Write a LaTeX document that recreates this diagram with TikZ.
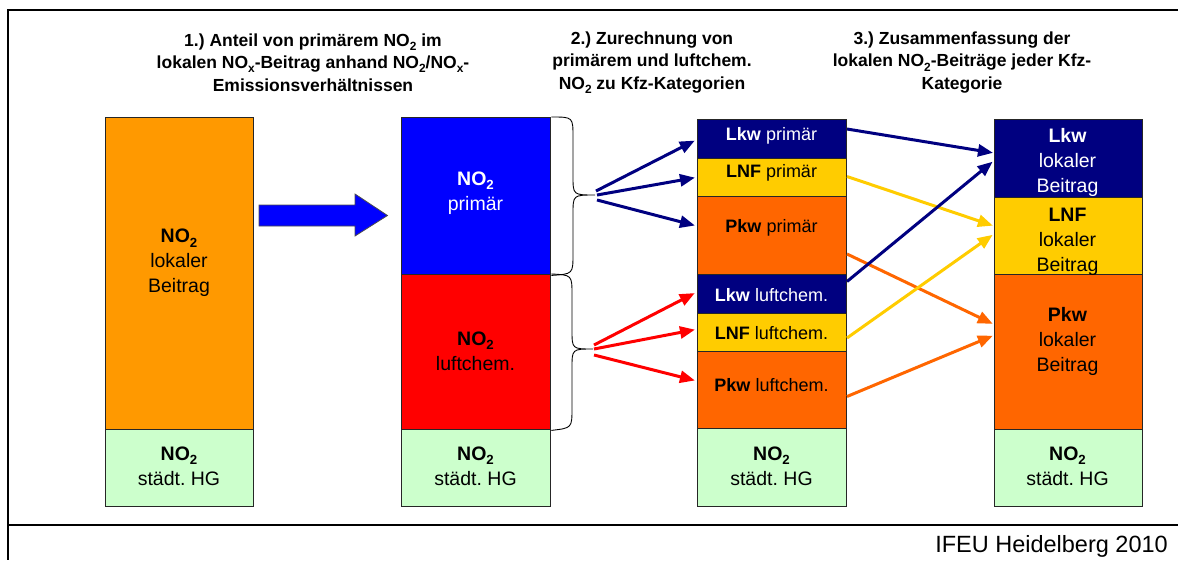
\documentclass[tikz,border=0pt]{standalone}
\usepackage{fontspec}
\setmainfont{Liberation Sans}
\usetikzlibrary{arrows.meta}
\frenchspacing
\definecolor{cOrange1}{HTML}{FF9900}
\definecolor{cBlue}{HTML}{0000FF}
\definecolor{cRed}{HTML}{FF0000}
\definecolor{cNavy}{HTML}{000080}
\definecolor{cYellow}{HTML}{FFCC00}
\definecolor{cOrange}{HTML}{FF6600}
\definecolor{cGreen}{HTML}{CCFFCC}
\newcommand{\lowsub}[1]{\raisebox{-0.4ex}{\fontsize{0.7\dimexpr\f@size pt\relax}{1pt}\selectfont #1}}
\makeatletter
\renewcommand{\lowsub}[1]{\raisebox{-0.45ex}{\fontsize{\dimexpr 0.68\dimexpr\f@size pt\relax\relax}{1pt}\selectfont #1}}
\makeatother
\newcommand{\NOtwo}{\textbf{NO\lowsub{2}}}
\begin{document}
\begin{tikzpicture}[x=1pt,y=-1pt,
  box/.style={draw=black!85, line width=1.4pt, inner sep=0pt, anchor=north west},
  txt/.style={align=center, inner sep=0pt, font=\fontsize{19.5}{25}\selectfont},
  stxt/.style={align=center, inner sep=0pt, font=\fontsize{18}{22}\selectfont},
  head/.style={align=center, inner sep=0pt, font=\fontsize{17.5}{22.5}\selectfont\bfseries},
  arr/.style={line width=3pt, -{Triangle[length=15pt,width=12pt]}, shorten >=-2pt},
  brace/.style={draw=black, line width=0.9pt}
]
\useasboundingbox (0,0) rectangle (1178,560);
% frame
\draw[line width=2pt] (1178,10) -- (8,10) -- (8,560);
\draw[line width=2pt] (8,525) -- (1178,525);

% headings
\node[head] (h1) at (313,62.5) {1.) Anteil von primärem NO\lowsub{2} im\\lokalen NO\lowsub{x}-Beitrag anhand NO\lowsub{2}/NO\lowsub{x}-\\Emissionsverhältnissen};
\node[head] (h2) at (652,62.5) {2.) Zurechnung von\\primärem und luftchem.\\NO\lowsub{2} zu Kfz-Kategorien};
\node[head] (h3) at (962,62.5) {3.) Zusammenfassung der\\lokalen NO\lowsub{2}-Beiträge jeder Kfz-\\Kategorie};

% column 1
\node[box, fill=cOrange1, minimum width=148pt, minimum height=312pt] (c1a) at (105,117) {};
\node[box, fill=cGreen, minimum width=148pt, minimum height=77pt] (c1b) at (105,429) {};
\node[txt] (t1a) at (179,263) {\NOtwo\\lokaler\\Beitrag};
\node[txt] (t1b) at (179,466) {\NOtwo\\städt. HG};

% big arrow
\draw[fill=cBlue, draw=black!70, line width=0.8pt] (259,205) -- (355,205) -- (355,194) -- (387.5,215.5) -- (355,236) -- (355,226) -- (259,226) -- cycle;
\coordinate (bigarrow) at (323,215);

% column 2
\node[box, fill=cBlue, minimum width=149pt, minimum height=157pt] (c2a) at (401,117) {};
\node[box, fill=cRed, minimum width=149pt, minimum height=155pt] (c2b) at (401,274) {};
\node[box, fill=cGreen, minimum width=149pt, minimum height=77pt] (c2c) at (401,429) {};
\node[txt, text=white] (t2a) at (475.5,193) {\NOtwo\\primär};
\node[txt] (t2b) at (475.5,351) {\NOtwo\\luftchem.};
\node[txt] (t2c) at (475.5,466) {\NOtwo\\städt. HG};

% braces
\coordinate (b1) at (595,195);
\coordinate (b2) at (593,349);
\draw[brace] (c2a.north east) .. controls (573,117) .. (573,137) -- (573,176) .. controls (573,195) .. (b1) .. controls (573,195) .. (573,214) -- (573,254) .. controls (573,274) .. (c2a.south east);
\draw[brace] (c2b.north east) .. controls (572,275) .. (572,295) -- (572,330) .. controls (572,349) .. (b2) .. controls (572,349) .. (572,368) -- (572,408) .. controls (572,428) .. (c2b.south east);

% column 3
\node[box, fill=cNavy, minimum width=149pt, minimum height=39pt] (c3a) at (697,119) {};
\node[box, fill=cYellow, minimum width=149pt, minimum height=38pt] (c3b) at (697,158) {};
\node[box, fill=cOrange, minimum width=149pt, minimum height=78pt] (c3c) at (697,196) {};
\node[box, fill=cNavy, minimum width=149pt, minimum height=39pt] (c3d) at (697,274) {};
\node[box, fill=cYellow, minimum width=149pt, minimum height=38pt] (c3e) at (697,313) {};
\node[box, fill=cOrange, minimum width=149pt, minimum height=77pt] (c3f) at (697,351) {};
\node[box, fill=cGreen, minimum width=149pt, minimum height=78pt] (c3g) at (697,428) {};
\node[stxt, text=white] (t3a) at (771.5,136) {\textbf{Lkw} primär};
\node[stxt] (t3b) at (771.5,173) {\textbf{LNF} primär};
\node[stxt] (t3c) at (771.5,228) {\textbf{Pkw} primär};
\node[stxt, text=white] (t3d) at (771.5,295) {\textbf{Lkw} luftchem.};
\node[stxt] (t3e) at (771.5,333) {\textbf{LNF} luftchem.};
\node[stxt] (t3f) at (771.5,385) {\textbf{Pkw} luftchem.};
\node[txt] (t3g) at (771.5,466) {\NOtwo\\städt. HG};

% column 4
\node[box, fill=cNavy, minimum width=148pt, minimum height=78pt] (c4a) at (993.5,119) {};
\node[box, fill=cYellow, minimum width=148pt, minimum height=77pt] (c4b) at (993.5,197) {};
\node[box, fill=cOrange, minimum width=148pt, minimum height=155pt] (c4c) at (993.5,274) {};
\node[box, fill=cGreen, minimum width=148pt, minimum height=77pt] (c4d) at (993.5,429) {};
\node[txt, text=white] (t4a) at (1067.5,162) {\textbf{Lkw}\\lokaler\\Beitrag};
\node[txt] (t4b) at (1067.5,242) {\textbf{LNF}\\lokaler\\Beitrag};
\node[txt] (t4c) at (1067.5,341) {\textbf{Pkw}\\lokaler\\Beitrag};
\node[txt] (t4d) at (1067.5,466) {\NOtwo\\städt. HG};

% arrows from braces
\coordinate (p1) at (693,141.5);
\coordinate (p2) at (693,178);
\coordinate (p3) at (693,225);
\coordinate (l1) at (693,294);
\coordinate (l2) at (693,330);
\coordinate (l3) at (693,380);
\draw[arr, cNavy] (596,191) -- (p1);
\draw[arr, cNavy] (597,195) -- (p2);
\draw[arr, cNavy] (597,200) -- (p3);
\draw[arr, cRed] (594,345) -- (l1);
\draw[arr, cRed] (594,349) -- (l2);
\draw[arr, cRed] (594,355) -- (l3);

% crossing arrows
\coordinate (q1) at (991,152.5);
\coordinate (q2) at (991,163);
\coordinate (q3) at (991,225);
\coordinate (q4) at (991,236);
\coordinate (q5) at (991,323);
\coordinate (q6) at (991,336.5);
\draw[arr, cNavy] (847,129) -- (q1);
\draw[arr, cYellow] (847,176.5) -- (q3);
\draw[arr, cOrange] (847,254) -- (q5);
\draw[arr, cNavy] (847,281.5) -- (q2);
\draw[arr, cYellow] (847,338) -- (q4);
\draw[arr, cOrange] (847,396.5) -- (q6);

% footer
\node[anchor=east, inner sep=0pt, font=\fontsize{23.5}{28}\selectfont] (foot) at (1168,546) {IFEU Heidelberg 2010};
\end{tikzpicture}
\end{document}
